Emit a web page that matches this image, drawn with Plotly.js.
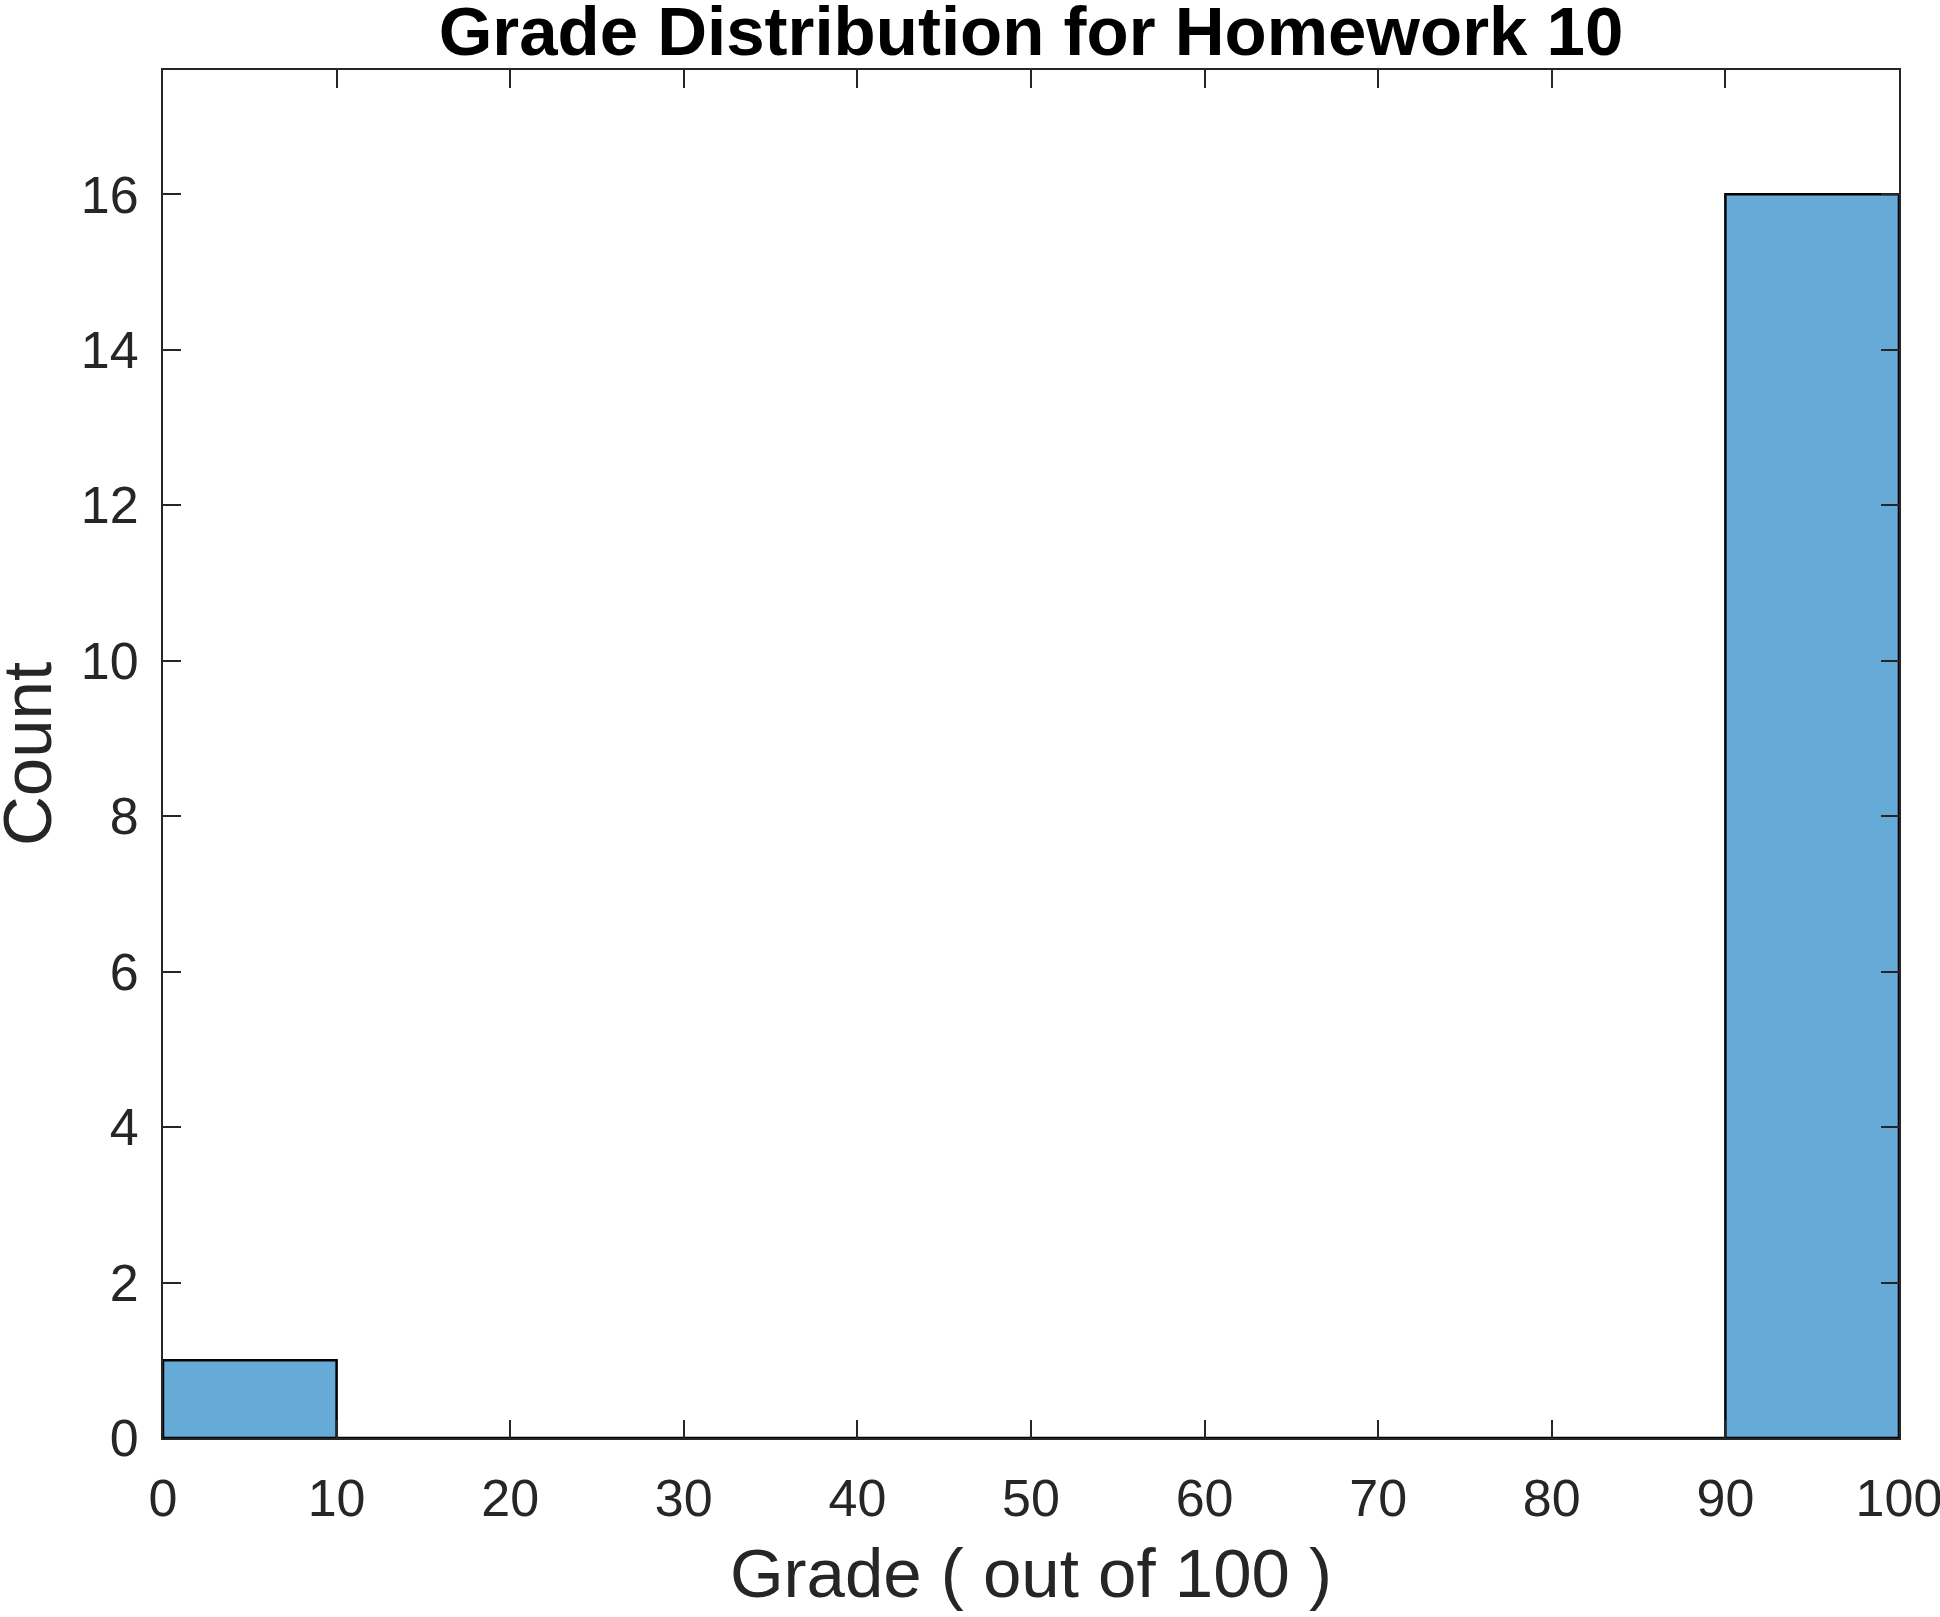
<!DOCTYPE html>
<html>
<head>
<meta charset="utf-8">
<script src="https://cdn.plot.ly/plotly-3.0.1.min.js"></script>
<style>html,body{margin:0;padding:0;background:#fff;}#chart{width:1940px;height:1617px;}</style>
</head>
<body>
<div id="chart"></div>
<script>
const binEdges = [0, 10, 20, 30, 40, 50, 60, 70, 80, 90, 100];
const counts = [1, 0, 0, 0, 0, 0, 0, 0, 0, 16];
const xTicks = [0, 10, 20, 30, 40, 50, 60, 70, 80, 90, 100];
const yTicks = [0, 2, 4, 6, 8, 10, 12, 14, 16];

const centers = counts.map((c, i) => (binEdges[i] + binEdges[i + 1]) / 2);
const widths = counts.map((c, i) => binEdges[i + 1] - binEdges[i]);

const axisColor = '#262626';
const fontFam = '"Liberation Sans", Arial, Helvetica, sans-serif';

const trace = {
  type: 'bar',
  x: centers,
  y: counts,
  width: widths,
  marker: { color: 'rgb(102,170,215)', line: { color: '#000000', width: 2.5 } },
  hoverinfo: 'x+y'
};

const layout = {
  width: 1940, height: 1617,
  margin: { l: 163, r: 41, t: 70, b: 179, pad: 0 },
  paper_bgcolor: '#ffffff', plot_bgcolor: '#ffffff',
  showlegend: false,
  bargap: 0,
  title: {
    text: '<b>Grade Distribution for Homework 10</b>',
    font: { family: fontFam, size: 69, color: '#000000' },
    x: 0.5, xanchor: 'center', xref: 'paper',
    y: 1 - 31 / 1617, yanchor: 'middle', yref: 'container'
  },
  xaxis: {
    range: [0, 100.001], tickvals: xTicks, ticktext: xTicks.map(String),
    ticks: 'inside', ticklen: 18, tickwidth: 2, tickcolor: axisColor,
    showline: true, linecolor: axisColor, linewidth: 2, mirror: 'ticks',
    showgrid: false, zeroline: false,
    ticklabeloverflow: 'allow',
    tickfont: { family: fontFam, size: 52, color: axisColor },
    ticklabelstandoff: 14,
    title: { text: 'Grade ( out of 100 )', font: { family: fontFam, size: 69, color: axisColor }, standoff: 22 }
  },
  yaxis: {
    range: [0, 17.6], tickvals: yTicks, ticktext: yTicks.map(String),
    ticks: 'inside', ticklen: 18, tickwidth: 2, tickcolor: axisColor,
    showline: true, linecolor: axisColor, linewidth: 2, mirror: 'ticks',
    showgrid: false, zeroline: false,
    tickfont: { family: fontFam, size: 52, color: axisColor },
    ticklabelstandoff: 12
  },
  annotations: [{
    text: 'Count', textangle: -90, showarrow: false,
    xref: 'paper', yref: 'paper', x: (27 - 163) / 1736, y: 0.5,
    xanchor: 'center', yanchor: 'middle',
    font: { family: fontFam, size: 69, color: axisColor }
  }]
};

Plotly.newPlot('chart', [trace], layout, { displayModeBar: false, staticPlot: true });
</script>
</body>
</html>
